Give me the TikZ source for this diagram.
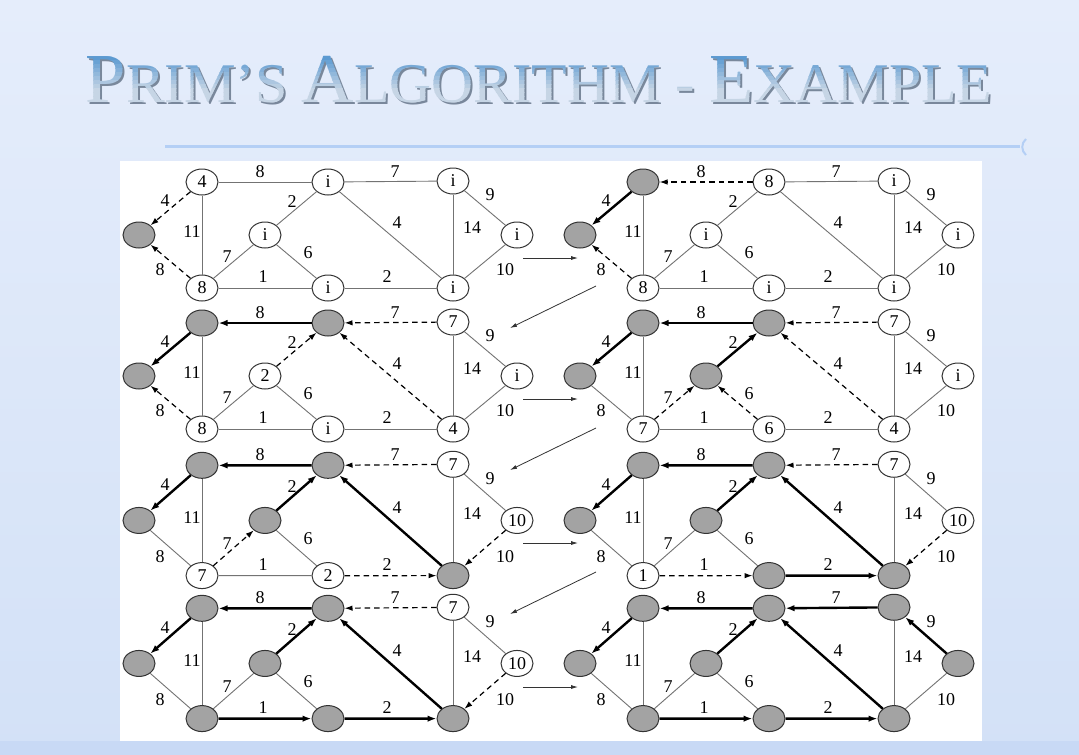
\documentclass[tikz,border=0pt]{standalone}
\usepackage{fontspec}
\setmainfont{Liberation Serif}
\usetikzlibrary{shapes.geometric,arrows.meta}

\definecolor{bgtop}{HTML}{E5EDFB}
\definecolor{bgbot}{HTML}{D3E1F7}
\definecolor{bgstrip}{HTML}{C8D9F5}
\definecolor{rulecolor}{HTML}{B4CFF5}
\definecolor{titletop}{HTML}{4F93CF}
\definecolor{titlebot}{HTML}{C6D5E5}
\definecolor{titleshadow}{HTML}{5F6F84}
\definecolor{visited}{HTML}{A3A3A3}

\newcommand\primtitle{\scalebox{1.037}[1]{%
  {\fontsize{70}{70}\selectfont P}{\fontsize{56}{56}\selectfont RIM’S }%
  {\fontsize{70}{70}\selectfont A}{\fontsize{56}{56}\selectfont LGORITHM - }%
  {\fontsize{70}{70}\selectfont E}{\fontsize{56}{56}\selectfont XAMPLE}}}

%vertex spots of one graph
\newcommand\spots{%
  \foreach \n/\x/\y in {a/139/235,b/202/182,c/328/182,d/453/181,e/517/235,
                        f/453/288,g/328/288,h/202/288,i/265/235}
    \coordinate (p-\n) at (\x,\y);}
%edge weights of one graph
\newcommand\weights{%
  \foreach \e/\x/\y/\w in {ab/165/201/4,bc/260/172/8,cd/395/172/7,ci/292/202/2,
                           bh/192/232/11,cf/397/223/4,df/472/228/14,de/490/195/9,
                           hi/227/257/7,ig/308/253/6,ah/160/270/8,hg/263/277/1,
                           gf/387/277/2,ef/505/270/10}
    \node[wt] (w-\e) at (\x,\y) {\w};}

\begin{document}
\begin{tikzpicture}
      [x=1pt,y=-1pt,
      %Styles
      vtx/.style={ellipse,draw=black!80,line width=1pt,minimum width=32pt,
                  minimum height=26pt,inner sep=0pt,font=\fontsize{18}{18}\selectfont},
      open/.style={vtx,fill=white},
      done/.style={vtx,fill=visited},
      wt/.style={inner sep=0pt,font=\fontsize{18}{18}\selectfont},
      plain/.style={draw=black!55,line width=0.9pt},
      cand/.style={draw=black,line width=1.2pt,dash pattern=on 5.5pt off 4pt,
                   -{Latex[length=8pt,width=5.5pt]}},
      tree/.style={draw=black,line width=2.4pt,-{Latex[length=9pt,width=6.5pt]}},
      stage arrow/.style={draw=black!80,line width=0.8pt,-{Latex[length=7pt,width=4pt]}}
      ]
      \useasboundingbox (0,0) rectangle (1079,755);

      %Slide
      \shade[top color=bgtop,bottom color=bgbot] (0,0) rectangle (1079,755);
      \fill[bgstrip] (0,741) rectangle (1079,755);
      \node[text=titleshadow,opacity=0.8,inner sep=0pt] (title shadow) at (541,82) {\primtitle};
      %title in bands, blue on top, pale below
      \foreach \k in {0,...,13} {
        \pgfmathsetmacro\mix{100-100*min(1,\k/9)}
        \begin{scope}
          \clip (0,52+4*\k) rectangle (1079,56.3+4*\k);
          \node[text=titletop!\mix!titlebot,inner sep=0pt] (title band \k) at (539,80) {\primtitle};
        \end{scope}
      }
      \draw[rulecolor,line width=3pt] (165,146) -- (1020,146);
      \draw[rulecolor,line width=2pt] (1026,139) .. controls (1021,143) and (1021,151) .. (1026,155);
      \fill[white] (120,161) rectangle (982,741);

      %Row 1
      \begin{scope}[name prefix=g1-]
        \spots
        \foreach \n/\st/\t in {a/done/{},b/open/4,c/open/i,d/open/i,e/open/i,f/open/i,g/open/i,h/open/8,i/open/i}
          \node[\st] (\n) at (p-\n) {\t};
        \foreach \u/\v/\k in {b/a/cand,h/a/cand,b/h/plain,b/c/plain,c/i/plain,c/d/plain,c/f/plain,
                              d/f/plain,d/e/plain,e/f/plain,h/i/plain,i/g/plain,h/g/plain,g/f/plain}
          \draw[\k] (\u) -- (\v);
        \weights
      \end{scope}
      \begin{scope}[shift={(441,0)},name prefix=g2-]
        \spots
        \foreach \n/\st/\t in {a/done/{},b/done/{},c/open/8,d/open/i,e/open/i,f/open/i,g/open/i,h/open/8,i/open/i}
          \node[\st] (\n) at (p-\n) {\t};
        \foreach \u/\v/\k in {b/a/tree,h/a/cand,b/h/plain,c/b/cand,c/i/plain,c/d/plain,c/f/plain,
                              d/f/plain,d/e/plain,e/f/plain,h/i/plain,i/g/plain,h/g/plain,g/f/plain}
          \draw[\k] (\u) -- (\v);
        \weights
      \end{scope}

      %Row 2
      \begin{scope}[shift={(0,141)},name prefix=g3-]
        \spots
        \foreach \n/\st/\t in {a/done/{},b/done/{},c/done/{},d/open/7,e/open/i,f/open/4,g/open/i,h/open/8,i/open/2}
          \node[\st] (\n) at (p-\n) {\t};
        \foreach \u/\v/\k in {b/a/tree,h/a/cand,b/h/plain,c/b/tree,i/c/cand,d/c/cand,f/c/cand,
                              d/f/plain,d/e/plain,e/f/plain,h/i/plain,i/g/plain,h/g/plain,g/f/plain}
          \draw[\k] (\u) -- (\v);
        \weights
      \end{scope}
      \begin{scope}[shift={(441,141)},name prefix=g4-]
        \spots
        \foreach \n/\st/\t in {a/done/{},b/done/{},c/done/{},d/open/7,e/open/i,f/open/4,g/open/6,h/open/7,i/done/{}}
          \node[\st] (\n) at (p-\n) {\t};
        \foreach \u/\v/\k in {b/a/tree,h/a/plain,b/h/plain,c/b/tree,i/c/tree,d/c/cand,f/c/cand,
                              d/f/plain,d/e/plain,e/f/plain,h/i/cand,g/i/cand,h/g/plain,g/f/plain}
          \draw[\k] (\u) -- (\v);
        \weights
      \end{scope}

      %Row 3
      \begin{scope}[shift={(0,276)},yscale=1.04,name prefix=g5-]
        \spots
        \foreach \n/\st/\t in {a/done/{},b/done/{},c/done/{},d/open/7,e/open/10,f/done/{},g/open/2,h/open/7,i/done/{}}
          \node[\st] (\n) at (p-\n) {\t};
        \foreach \u/\v/\k in {b/a/tree,h/a/plain,b/h/plain,c/b/tree,i/c/tree,d/c/cand,f/c/tree,
                              d/f/plain,d/e/plain,e/f/cand,h/i/cand,i/g/plain,h/g/plain,g/f/cand}
          \draw[\k] (\u) -- (\v);
        \weights
      \end{scope}
      \begin{scope}[shift={(441,276)},yscale=1.04,name prefix=g6-]
        \spots
        \foreach \n/\st/\t in {a/done/{},b/done/{},c/done/{},d/open/7,e/open/10,f/done/{},g/done/{},h/open/1,i/done/{}}
          \node[\st] (\n) at (p-\n) {\t};
        \foreach \u/\v/\k in {b/a/tree,h/a/plain,b/h/plain,c/b/tree,i/c/tree,d/c/cand,f/c/tree,
                              d/f/plain,d/e/plain,e/f/cand,h/i/plain,i/g/plain,h/g/cand,g/f/tree}
          \draw[\k] (\u) -- (\v);
        \weights
      \end{scope}

      %Row 4
      \begin{scope}[shift={(0,419)},yscale=1.04,name prefix=g7-]
        \spots
        \foreach \n/\st/\t in {a/done/{},b/done/{},c/done/{},d/open/7,e/open/10,f/done/{},g/done/{},h/done/{},i/done/{}}
          \node[\st] (\n) at (p-\n) {\t};
        \foreach \u/\v/\k in {b/a/tree,h/a/plain,b/h/plain,c/b/tree,i/c/tree,d/c/cand,f/c/tree,
                              d/f/plain,d/e/plain,e/f/cand,h/i/plain,i/g/plain,h/g/tree,g/f/tree}
          \draw[\k] (\u) -- (\v);
        \weights
      \end{scope}
      \begin{scope}[shift={(441,419)},yscale=1.04,name prefix=g8-]
        \spots
        \foreach \n/\st/\t in {a/done/{},b/done/{},c/done/{},d/done/{},e/done/{},f/done/{},g/done/{},h/done/{},i/done/{}}
          \node[\st] (\n) at (p-\n) {\t};
        \foreach \u/\v/\k in {b/a/tree,h/a/plain,b/h/plain,c/b/tree,i/c/tree,d/c/tree,f/c/tree,
                              d/f/plain,e/d/tree,e/f/plain,h/i/plain,i/g/plain,h/g/tree,g/f/tree}
          \draw[\k] (\u) -- (\v);
        \weights
      \end{scope}

      %Steps between graphs
      \foreach \o [count=\r] in {0,141,285,429} {
        \coordinate (across\r-from) at (523,258+\o);
        \coordinate (across\r-to) at (578,258+\o);
        \draw[stage arrow] (across\r-from) -- (across\r-to);
      }
      \foreach \o [count=\r] in {0,142,286} {
        \coordinate (down\r-from) at (596,286+\o);
        \coordinate (down\r-to) at (510,328+\o);
        \draw[stage arrow] (down\r-from) -- (down\r-to);
      }
\end{tikzpicture}
\end{document}
